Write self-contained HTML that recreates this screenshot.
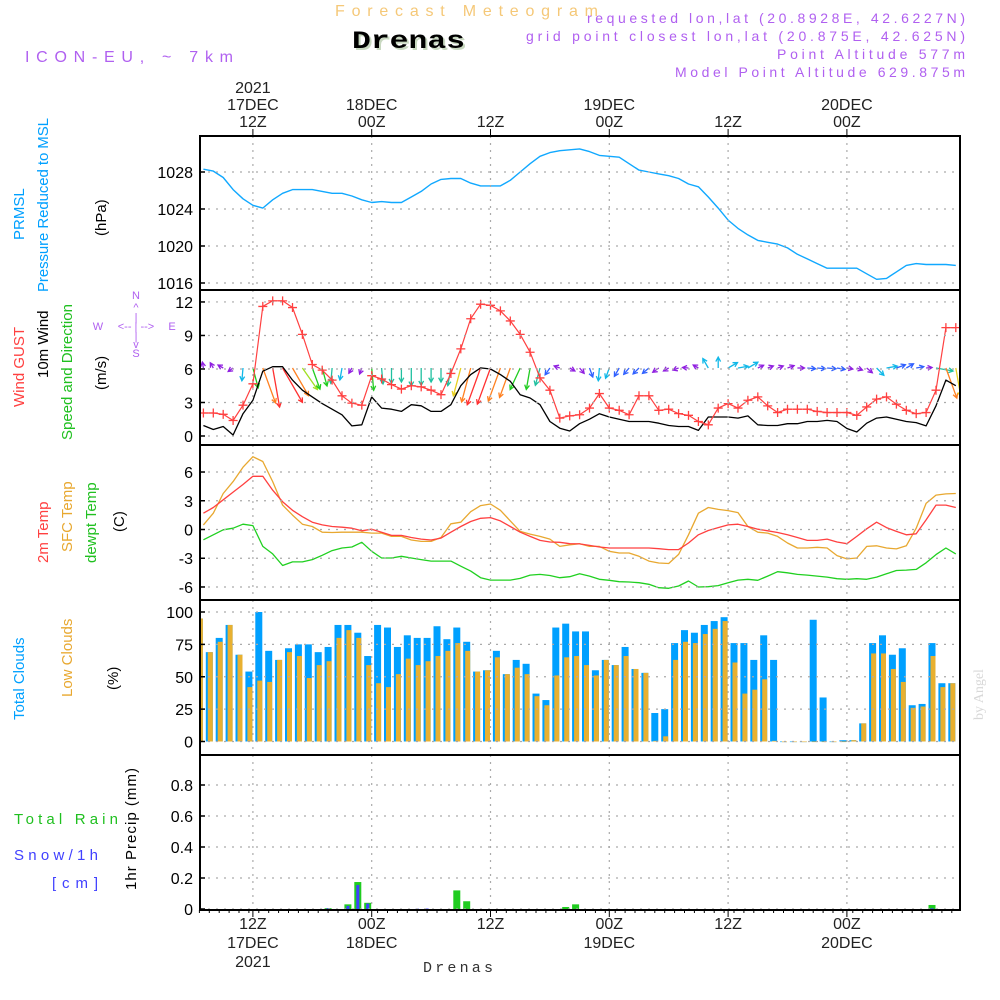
<!DOCTYPE html>
<html><head><meta charset="utf-8"><style>
html,body{margin:0;padding:0;background:#fff;}
svg{display:block;font-family:"Liberation Sans",sans-serif;}
</style></head><body>
<svg id="chart" width="1000" height="1000" viewBox="0 0 1000 1000" xmlns="http://www.w3.org/2000/svg">
<defs><clipPath id="plotclip"><rect x="200" y="136" width="760" height="774"/></clipPath></defs>
<rect width="1000" height="1000" fill="#fff"/>
<text x="335" y="16" font-size="16" fill="#f5c878" textLength="263" lengthAdjust="spacing">Forecast Meteogram</text>
<text x="354" y="50" font-size="25" font-weight="bold" font-family="Liberation Mono,monospace" fill="#c8d8c0" textLength="113" lengthAdjust="spacingAndGlyphs">Drenas</text>
<text x="352" y="48" font-size="25" font-weight="bold" font-family="Liberation Mono,monospace" fill="#000" textLength="113" lengthAdjust="spacingAndGlyphs">Drenas</text>
<text x="25" y="62" font-size="16" fill="#b060f0" textLength="208" lengthAdjust="spacing">ICON-EU, ~ 7km</text>
<g font-size="14" fill="#b060f0">
<text x="587" y="23" textLength="378" lengthAdjust="spacing">requested lon,lat (20.8928E, 42.6227N)</text>
<text x="526" y="41" textLength="439" lengthAdjust="spacing">grid point closest lon,lat (20.875E, 42.625N)</text>
<text x="777" y="59" textLength="188" lengthAdjust="spacing">Point Altitude 577m</text>
<text x="675" y="77" textLength="290" lengthAdjust="spacing">Model Point Altitude 629.875m</text>
</g>
<g font-size="15">
<text transform="translate(24,240) rotate(-90)" fill="#00a0ff">PRMSL</text>
<text transform="translate(48,292) rotate(-90)" fill="#00a0ff" textLength="174" lengthAdjust="spacing">Pressure Reduced to MSL</text>
<text transform="translate(106,236) rotate(-90)" fill="#000">(hPa)</text>
<text transform="translate(24,407) rotate(-90)" fill="#ff4040">Wind GUST</text>
<text transform="translate(48,378) rotate(-90)" fill="#000">10m Wind</text>
<text transform="translate(72,440) rotate(-90)" fill="#20c020">Speed and Direction</text>
<text transform="translate(106,390) rotate(-90)" fill="#000">(m/s)</text>
<text transform="translate(48,563) rotate(-90)" fill="#ff4040">2m Temp</text>
<text transform="translate(72,552) rotate(-90)" fill="#e8a830">SFC Temp</text>
<text transform="translate(96,563) rotate(-90)" fill="#20c020">dewpt Temp</text>
<text transform="translate(124,532) rotate(-90)" fill="#000">(C)</text>
<text transform="translate(24,720) rotate(-90)" fill="#00a0ff">Total Clouds</text>
<text transform="translate(72,697) rotate(-90)" fill="#e8a830">Low Clouds</text>
<text transform="translate(118,690) rotate(-90)" fill="#000">(%)</text>
<text x="14" y="824" fill="#20c020" textLength="104" lengthAdjust="spacing">Total  Rain</text>
<text x="14" y="860" fill="#4040ff" textLength="84" lengthAdjust="spacing">Snow/1h</text>
<text x="52" y="888" fill="#4040ff" textLength="46" lengthAdjust="spacing">[cm]</text>
<text transform="translate(136,890) rotate(-90)" fill="#000" textLength="122" lengthAdjust="spacing">1hr Precip (mm)</text>
</g>
<g fill="#b060f0" font-size="11" text-anchor="middle">
<text x="136" y="299">N</text><text x="136" y="311">^</text><text x="136" y="321">|</text>
<text x="98" y="330">W</text><text x="136" y="330">&lt;-- | --&gt;</text><text x="172" y="330">E</text>
<text x="136" y="340">|</text><text x="136" y="348">v</text><text x="136" y="357">S</text>
</g>
<text transform="translate(983,720) rotate(-90)" font-size="14" font-family="Liberation Serif,serif" fill="#d8d8d8">by Angel</text>
<text x="458" y="972" font-size="15" font-family="Liberation Mono,monospace" text-anchor="middle" fill="#333" textLength="70" lengthAdjust="spacing">Drenas</text>
<g id="g"></g>
</svg>
<script>
var pressure=[1028.3,1028.1,1027.4,1026.1,1025.1,1024.4,1024.1,1025.0,1025.7,1026.1,1026.1,1026.1,1025.9,1025.7,1025.7,1025.4,1025.0,1024.7,1024.8,1024.7,1024.7,1025.3,1025.9,1026.7,1027.2,1027.3,1027.3,1026.8,1026.5,1026.5,1026.5,1027.1,1028.0,1028.9,1029.7,1030.1,1030.3,1030.4,1030.5,1030.2,1029.8,1029.7,1029.6,1028.9,1028.2,1028.0,1027.8,1027.6,1027.3,1026.7,1026.4,1025.3,1024.1,1022.8,1021.9,1021.2,1020.6,1020.4,1020.2,1019.8,1019.1,1018.6,1018.1,1017.6,1017.6,1017.6,1017.6,1017.0,1016.4,1016.5,1017.2,1017.9,1018.1,1018.0,1018.0,1018.0,1017.9];
var gust=[2.06,2.06,1.94,1.39,2.76,4.67,11.6,12.1,12.1,11.5,9.1,6.4,5.9,5.0,3.6,2.94,2.76,5.4,5.1,4.6,4.2,4.5,4.4,4.1,3.7,5.6,7.8,10.5,11.8,11.7,11.2,10.3,9.1,7.5,5.2,4.1,1.6,1.8,1.9,2.5,3.8,2.5,2.3,1.9,3.6,3.6,2.3,2.4,2.0,1.85,1.3,1.0,2.5,2.9,2.5,3.2,3.5,2.7,2.1,2.4,2.4,2.4,2.2,2.1,2.1,2.1,1.85,2.6,3.3,3.5,2.85,2.3,2.0,2.1,4.1,9.7,9.7];
var wind=[0.94,0.58,0.85,0.09,2.0,3.2,5.8,6.2,6.2,5.0,4.1,3.5,2.9,2.4,1.9,0.9,1.0,3.5,2.5,2.4,2.2,2.8,2.7,2.2,2.2,2.8,4.5,5.5,6.1,6.0,5.5,4.9,3.7,3.4,2.8,1.3,0.7,0.45,1.1,1.5,2.0,1.7,1.5,1.3,1.3,1.3,1.15,0.94,0.85,0.85,0.5,1.7,1.7,1.7,1.6,1.8,1.0,0.94,0.94,1.1,1.1,1.3,1.3,1.4,1.3,0.67,0.36,1.15,1.6,1.7,1.5,1.3,1.2,0.9,2.7,5.0,4.5];
var windDir=[350,330,300,235,185,165,160,170,150,150,145,160,165,185,190,210,200,175,175,180,180,180,180,180,180,190,195,195,200,200,200,200,205,190,195,215,290,120,140,160,185,200,210,220,225,230,235,240,250,275,300,330,0,60,80,60,65,70,70,70,90,95,95,95,100,100,110,130,135,80,70,60,80,85,100,160,170];
var t2m=[1.7,2.3,3.1,3.9,4.7,5.55,5.55,4.1,2.9,2.0,1.34,0.76,0.48,0.31,0.24,0.14,-0.14,0.03,-0.28,-0.62,-0.62,-0.83,-1.0,-1.1,-0.9,-0.28,0.31,0.83,1.17,1.24,0.9,0.31,-0.28,-0.72,-1.14,-1.3,-1.34,-1.48,-1.5,-1.66,-1.83,-1.93,-1.93,-1.93,-1.93,-1.93,-2.0,-2.1,-2.1,-1.41,-0.55,-0.1,0.2,0.48,0.55,0.31,0.03,-0.14,-0.31,-0.55,-0.83,-1.14,-1.14,-1.0,-1.3,-1.48,-0.72,0.07,0.76,0.2,-0.2,-0.55,-0.45,1.0,2.55,2.55,2.3];
var tsfc=[0.48,1.7,3.76,5.0,6.5,7.6,7.1,5.0,2.55,1.5,0.55,0.31,-0.28,-0.31,-0.28,-0.28,-0.28,-0.38,-0.38,-0.72,-0.72,-1.1,-1.24,-1.24,-0.83,0.59,0.76,1.86,2.5,2.66,2.0,0.9,-0.2,-0.48,-0.72,-1.0,-1.76,-1.6,-1.48,-1.76,-1.76,-2.28,-2.45,-2.45,-2.8,-3.3,-3.5,-3.55,-2.6,-0.55,1.7,2.3,2.1,1.97,1.76,0.31,-0.28,-0.38,-0.72,-1.41,-1.93,-1.93,-1.86,-1.93,-2.72,-3.07,-2.97,-1.76,-1.7,-1.93,-2.03,-1.7,0.14,2.72,3.59,3.72,3.76];
var dewpt=[-1.07,-0.55,-0.03,0.14,0.55,0.41,-1.76,-2.55,-3.76,-3.38,-3.38,-3.14,-2.69,-2.2,-1.93,-1.83,-1.34,-2.28,-2.97,-2.97,-2.8,-2.97,-3.14,-3.3,-3.3,-3.3,-3.83,-4.34,-5.03,-5.28,-5.28,-5.28,-5.1,-4.76,-4.69,-4.8,-5.03,-4.93,-4.62,-4.86,-5.2,-5.3,-5.45,-5.48,-5.55,-5.72,-6.07,-6.14,-5.9,-5.38,-6.0,-5.97,-5.86,-5.55,-5.28,-5.2,-5.3,-4.86,-4.41,-4.52,-4.69,-4.76,-4.86,-4.97,-5.14,-5.2,-5.14,-5.2,-4.97,-4.62,-4.28,-4.24,-4.17,-3.48,-2.62,-1.93,-2.55];
var totalClouds=[95,69,80,90,67,54,100,70,63,72,75,75,69,73,90,90,84,66,90,88,73,82,80,80,89,79,88,77,54,55,70,52,63,60,37,32,88,91,85,85,55,63,59,73,56,53,22,25,76,86,84,90,93,96,76,76,63,82,63,0,0,0,94,34,0,1,1,14,76,82,67,72,28,29,76,45,45];
var lowClouds=[95,69,77,90,67,42,47,46,63,69,66,49,59,62,80,86,80,59,45,42,52,64,59,62,66,70,76,70,54,55,65,52,57,52,35,28,51,65,66,59,51,63,59,66,56,53,0.5,4,63,77,76,83,87,93,61,37,40,48,0.5,0,0,0,0,0,0,0,1,14,68,68,56,46,26,27,66,42,45];
var rain=[0,0,0,0,0,0,0,0,0,0,0,0,0,0.005,0,0.03,0.174,0.04,0,0,0,0,0,0,0,0,0.12,0.05,0,0,0,0,0,0,0,0,0,0.013,0.03,0,0,0,0,0,0,0,0,0,0,0,0,0,0,0,0,0,0,0,0,0,0,0,0,0,0,0,0,0,0,0,0,0,0,0,0.026,0,0];
var snow=[0,0,0,0,0,0,0,0,0,0,0,0,0,0.005,0,0.02,0.155,0.035,0,0,0,0,0.003,0.003,0,0,0,0,0,0,0,0,0,0,0,0,0,0,0,0,0,0,0,0,0,0,0,0,0,0,0,0,0,0,0,0,0,0,0,0,0,0,0,0,0,0,0,0,0,0,0,0,0,0,0.005,0,0];
var timeTicks=[5,17,29,41,53,65];
var topTickLabels=[["2021","17DEC","12Z"],["","18DEC","00Z"],["","","12Z"],["","19DEC","00Z"],["","","12Z"],["","20DEC","00Z"]];
var bottomTickLabels=[["12Z","17DEC","2021"],["00Z","18DEC",""],["12Z","",""],["00Z","19DEC",""],["12Z","",""],["00Z","20DEC",""]];
var pTicks=[1016,1020,1024,1028], wTicks=[0,3,6,9,12], tTicks=[-6,-3,0,3,6], cTicks=[0,25,50,75,100], rTicks=[0,0.2,0.4,0.6,0.8];

var X0=200,X1=960;
function x(k){return 203.4+9.9*k;}
function xb(i){return 199.4+9.9*i;}
function yP(v){return 172+(1028-v)*9.25;}
function yW(v){return 436-v*11.17;}
function yT(v){return 529.5-v*9.58;}
function yC(v){return 741.5-v*1.295;}
function yR(v){return 909-v*155;}
var panels=[[136,290,pTicks,yP,function(v){return v;}],[290,445,wTicks,yW,function(v){return v;}],[445,600,tTicks,yT,function(v){return v;}],[600,755,cTicks,yC,function(v){return v;}],[755,910,rTicks,yR,function(v){return v===0?"0":v.toFixed(1);}]];
var NS="http://www.w3.org/2000/svg",G0=document.getElementById("g");
function el(t,a,p){var e=document.createElementNS(NS,t);for(var k in a)e.setAttribute(k,a[k]);(p||G).appendChild(e);return e;}
var G=G0;
var PL=el("g",{"clip-path":"url(#plotclip)"},G0);


function poly(arr,f,col,w,name){var pts=arr.map(function(v,k){return x(k).toFixed(1)+","+f(v).toFixed(1);}).join(" ");
 var e=el("polyline",{points:pts,fill:"none",stroke:col,"stroke-width":w,"stroke-linejoin":"round"},PL);
 
 
 return e;}

panels.forEach(function(p){
 var top=p[0],bot=p[1];
 timeTicks.forEach(function(k){var g=el("line",{x1:x(k),x2:x(k),y1:top,y2:bot,stroke:"#aaa","stroke-dasharray":"2,5","stroke-width":1.2});
  
  });
 p[2].forEach(function(v){var y=p[3](v);
  var g=el("line",{x1:X0,x2:X1,y1:y,y2:y,stroke:"#aaa","stroke-dasharray":"2,6","stroke-width":1.2});
  
  
  el("line",{x1:X0,x2:X0+5,y1:y,y2:y,stroke:"#000","stroke-width":1.5});
  var t=el("text",{x:193,y:y+6,"font-size":16,"text-anchor":"end",fill:"#000"});t.textContent=p[4](v);
  
  
 });
});
for(var k=0;k<77;k++){el("line",{x1:xb(k),x2:xb(k),y1:910,y2:913,stroke:"#000","stroke-width":1});}
timeTicks.forEach(function(k,i){
 el("line",{x1:x(k),x2:x(k),y1:129,y2:136,stroke:"#000","stroke-width":1});
 el("line",{x1:x(k),x2:x(k),y1:910,y2:917,stroke:"#000","stroke-width":1});
 topTickLabels[i].forEach(function(s,j){if(!s)return;var t=el("text",{x:x(k),y:93+j*17,"font-size":16,"text-anchor":"middle",fill:"#222"});t.textContent=s;
  
  });
 bottomTickLabels[i].forEach(function(s,j){if(!s)return;var t=el("text",{x:x(k),y:929+j*19,"font-size":16,"text-anchor":"middle",fill:"#222"});t.textContent=s;
  
  });
});

poly(pressure,yP,"#10a8ff",1.4,"pressure-line");

totalClouds.forEach(function(v,i){var c=xb(i);
 var b=el("rect",{x:c-3.5,y:yC(v),width:7,height:Math.max(741.5-yC(v),0.6),fill:"#00a0ff"},PL);
 
 
 var lv=lowClouds[i];
 var o=el("rect",{x:c-1.5,y:yC(lv),width:5,height:Math.max(741.5-yC(lv),0.6),fill:"#e8b030"},PL);
 
 
});

rain.forEach(function(v,i){var c=xb(i);
 if(v>0){var b=el("rect",{x:c-3.5,y:yR(v),width:7,height:909-yR(v),fill:"#20cc20"},PL);
  
  }
 var s=snow[i];
 if(s>0){var sb=el("rect",{x:c-1.5,y:yR(s),width:3,height:909-yR(s),fill:"#4040ff"},PL);
  
  }
});

poly(tsfc,yT,"#e8a830",1.3,"sfc-temp-line");
poly(t2m,yT,"#ff4040",1.3,"temp-2m-line");
poly(dewpt,yT,"#20d020",1.3,"dewpt-line");

function windColor(s){if(s>=6)return"#ff3030";if(s>=4.8)return"#ff8020";if(s>=4.3)return"#e8d020";if(s>=3.8)return"#a0e020";if(s>=2.9)return"#20cc20";if(s>=2.2)return"#20c0a0";if(s>=1.6)return"#10b8e8";if(s>=1.2)return"#3060ff";return"#9020e0";}
windDir.forEach(function(d,k){var s=wind[k],L=Math.max(s*6.4,6),r=d*Math.PI/180;
 var x0=x(k),y0=368,x1=x0+Math.sin(r)*L,y1=y0-Math.cos(r)*L,col=windColor(s);
 var a=Math.atan2(y1-y0,x1-x0),h=5;
 var g=el("g",{stroke:col,"stroke-width":1.3,fill:"none"},PL);
 
 
 el("line",{x1:x0,y1:y0,x2:x1,y2:y1},g);
 el("polyline",{points:(x1-h*Math.cos(a-0.5))+","+(y1-h*Math.sin(a-0.5))+" "+x1+","+y1+" "+(x1-h*Math.cos(a+0.5))+","+(y1-h*Math.sin(a+0.5))},g);
});
poly(wind,yW,"#000",1.3,"wind-speed-line");
poly(gust,yW,"#ff4040",1.2,"wind-gust-line");
gust.forEach(function(v,k){var cx=x(k),cy=yW(v);
 var m=el("path",{d:"M"+(cx-4.5)+" "+cy+"h9M"+cx+" "+(cy-4.5)+"v9",stroke:"#ff4040","stroke-width":1.3},PL);
 
 
});

panels.forEach(function(p){var r=el("rect",{x:X0,y:p[0],width:X1-X0,height:p[1]-p[0],fill:"none",stroke:"#000","stroke-width":2});
 
 });
</script>
</body></html>
